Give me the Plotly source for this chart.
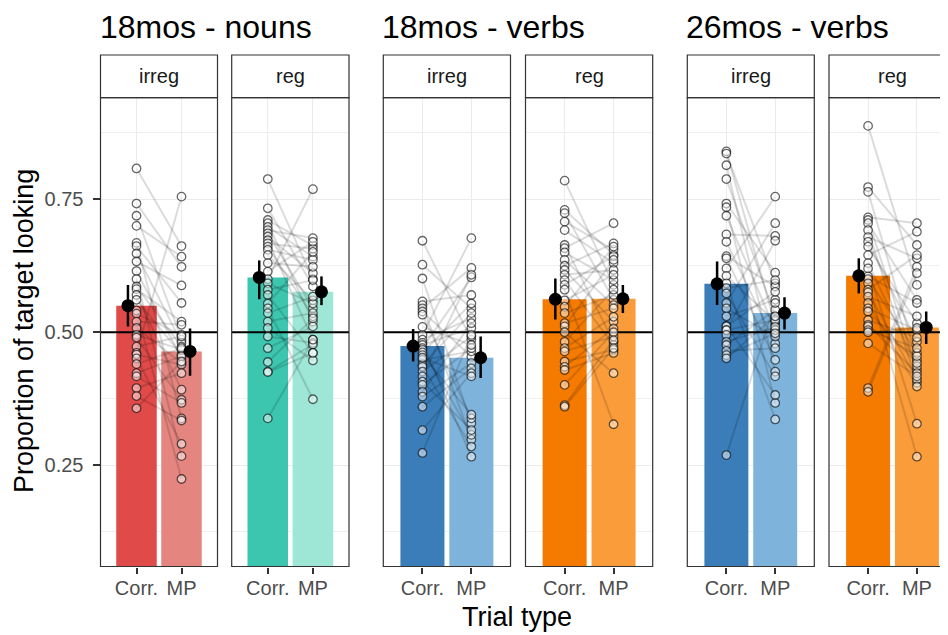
import plotly.graph_objects as go

W_PAGE, H_PAGE = 948, 635
BODY = 8  # default page margin of the html body
W, H = W_PAGE - BODY, H_PAGE - BODY

group_titles = ["18mos - nouns", "18mos - verbs", "26mos - verbs"]
strip_labels = ["irreg", "reg", "irreg", "reg", "irreg", "reg"]
trial_types = ["Corr.", "MP"]
y_ticks = [0.25, 0.50, 0.75]
y_tick_labels = ["0.25", "0.50", "0.75"]
y_minor = [0.125, 0.375, 0.625, 0.875]
ref_line = 0.5
y_title = "Proportion of target looking"
x_title = "Trial type"

# individual participants (paired: corr[i] <-> mp[i])
corr_1 = [0.808, 0.742, 0.719, 0.700, 0.668, 0.662, 0.648, 0.633, 0.615, 0.600, 0.586, 0.581, 0.570, 0.561, 0.541,
          0.535, 0.520, 0.508, 0.495, 0.490, 0.473, 0.461, 0.458, 0.451, 0.440, 0.423, 0.417, 0.395, 0.380, 0.357]
mp_1 = [0.662, 0.623, 0.486, 0.642, 0.338, 0.555, 0.480, 0.588, 0.451, 0.267, 0.473, 0.520, 0.392, 0.458, 0.224,
        0.495, 0.514, 0.442, 0.467, 0.373, 0.492, 0.755, 0.439, 0.290, 0.470, 0.455, 0.367, 0.423, 0.334, 0.445]

corr_2 = [0.788, 0.733, 0.711, 0.705, 0.698, 0.692, 0.686, 0.680, 0.673, 0.667, 0.661, 0.655, 0.645, 0.630, 0.614,
          0.600, 0.592, 0.580, 0.570, 0.554, 0.545, 0.536, 0.520, 0.508, 0.492, 0.470, 0.444, 0.426, 0.425, 0.338]
mp_2 = [0.600, 0.586, 0.663, 0.520, 0.642, 0.677, 0.545, 0.611, 0.486, 0.657, 0.530, 0.636, 0.560, 0.623, 0.670,
        0.769, 0.554, 0.598, 0.461, 0.651, 0.374, 0.567, 0.536, 0.447, 0.480, 0.511, 0.526, 0.477, 0.461, 0.486]

corr_3 = [0.672, 0.627, 0.601, 0.558, 0.551, 0.545, 0.539, 0.533, 0.495, 0.486, 0.480, 0.476, 0.470, 0.467, 0.462,
          0.457, 0.448, 0.439, 0.435, 0.426, 0.417, 0.407, 0.401, 0.388, 0.379, 0.360, 0.316, 0.273, 0.452, 0.510]
mp_3 = [0.486, 0.545, 0.329, 0.570, 0.298, 0.621, 0.454, 0.338, 0.677, 0.526, 0.266, 0.508, 0.603, 0.307, 0.554,
        0.345, 0.464, 0.536, 0.285, 0.492, 0.608, 0.316, 0.470, 0.517, 0.442, 0.432, 0.423, 0.495, 0.417, 0.476]

corr_4 = [0.785, 0.730, 0.724, 0.708, 0.692, 0.664, 0.658, 0.650, 0.636, 0.625, 0.617, 0.608, 0.598, 0.589, 0.580,
          0.560, 0.548, 0.536, 0.517, 0.511, 0.500, 0.482, 0.470, 0.464, 0.445, 0.435, 0.429, 0.401, 0.363, 0.360]
mp_4 = [0.589, 0.646, 0.561, 0.655, 0.630, 0.482, 0.705, 0.598, 0.551, 0.667, 0.520, 0.617, 0.476, 0.643, 0.327,
        0.608, 0.661, 0.570, 0.545, 0.636, 0.423, 0.580, 0.529, 0.492, 0.467, 0.507, 0.461, 0.500, 0.485, 0.470]

corr_5 = [0.840, 0.836, 0.814, 0.788, 0.742, 0.735, 0.719, 0.684, 0.670, 0.643, 0.639, 0.620, 0.606, 0.592, 0.583,
          0.573, 0.555, 0.545, 0.530, 0.512, 0.511, 0.504, 0.504, 0.495, 0.482, 0.476, 0.465, 0.457, 0.451, 0.269]
mp_5 = [0.514, 0.592, 0.426, 0.530, 0.612, 0.367, 0.504, 0.681, 0.479, 0.586, 0.448, 0.755, 0.520, 0.336, 0.598,
        0.417, 0.705, 0.492, 0.561, 0.382, 0.576, 0.672, 0.523, 0.504, 0.510, 0.542, 0.470, 0.498, 0.530, 0.555]

corr_6 = [0.888, 0.773, 0.764, 0.716, 0.711, 0.705, 0.692, 0.679, 0.670, 0.661, 0.645, 0.630, 0.620, 0.605, 0.600,
          0.592, 0.580, 0.575, 0.567, 0.555, 0.545, 0.539, 0.523, 0.514, 0.511, 0.504, 0.500, 0.479, 0.395, 0.388]
mp_6 = [0.589, 0.664, 0.448, 0.705, 0.429, 0.561, 0.405, 0.639, 0.482, 0.517, 0.689, 0.436, 0.328, 0.555, 0.461,
        0.266, 0.645, 0.411, 0.530, 0.398, 0.504, 0.442, 0.490, 0.423, 0.455, 0.470, 0.508, 0.417, 0.623, 0.611]

# group means and 95% CI
mean_corr = [0.550, 0.603, 0.474, 0.562, 0.591, 0.606]
lo_corr = [0.511, 0.562, 0.445, 0.524, 0.551, 0.573]
hi_corr = [0.589, 0.635, 0.506, 0.601, 0.633, 0.639]
mean_mp = [0.464, 0.576, 0.452, 0.563, 0.536, 0.509]
lo_mp = [0.418, 0.551, 0.414, 0.536, 0.505, 0.478]
hi_mp = [0.507, 0.605, 0.492, 0.589, 0.566, 0.539]

corr_vals = [corr_1, corr_2, corr_3, corr_4, corr_5, corr_6]
mp_vals = [mp_1, mp_2, mp_3, mp_4, mp_5, mp_6]

bar_corr = ["#E04A49", "#3CC6B0", "#3A7DB8", "#F47A00", "#3A7DB8", "#F47A00"]
bar_mp = ["#E5857F", "#9EE6D6", "#7EB3DB", "#FB9C3A", "#7EB3DB", "#FB9C3A"]

# layout geometry (page pixels)
panels_px = [(100.5, 217.5), (231.7, 349.0), (383.3, 510.5), (525.5, 652.7), (687.3, 814.3), (829.0, 956.0)]
strip_top, panel_top, panel_bot = 55.0, 97.7, 566.5
x_lo, x_span = 0.2, 2.6
dodge = 0.19
y_range = [0.0595, 0.941]


def px(v):
    return (v - BODY) / W


def py(v):
    return 1 - (v - BODY) / H


fig = go.Figure()
layout = dict(width=W, height=H, margin=dict(l=0, r=0, t=0, b=0), plot_bgcolor="white",
              paper_bgcolor="white", showlegend=False, font=dict(family="Liberation Sans, Arial, sans-serif"))
shapes, annotations = [], []
ydom = [py(panel_bot), py(panel_top)]
strip_h = (panel_top - strip_top) / (panel_bot - panel_top)

for i in range(6):
    sfx = "" if i == 0 else str(i + 1)
    xa, ya = "x" + sfx, "y" + sfx
    l, r = panels_px[i]
    rv = min(r, W_PAGE)
    frac = (rv - l) / (r - l)
    x_hi = x_lo + x_span * frac
    over = (r - l) / (rv - l)

    layout["xaxis" + sfx] = dict(domain=[px(l), min(px(rv), 1.0)], range=[x_lo, x_hi], anchor=ya,
                                 tickvals=[1, 2], ticktext=trial_types, showgrid=True, gridcolor="#ebebeb",
                                 gridwidth=1.4, zeroline=False, showline=False, ticks="outside", ticklen=6,
                                 tickwidth=1.5, tickcolor="#333333", ticklabelstandoff=-3,
                                 tickfont=dict(size=20, color="#4d4d4d"), automargin=False)
    layout["yaxis" + sfx] = dict(domain=ydom, range=y_range, anchor=xa, tickvals=y_ticks,
                                 ticktext=y_tick_labels, showgrid=True, gridcolor="#ebebeb", gridwidth=1.4,
                                 zeroline=False, showline=False,
                                 minor=dict(tickvals=y_minor, showgrid=True, gridcolor="#f0f0f0", gridwidth=0.8),
                                 ticks="outside" if i == 0 else "", ticklen=7, tickwidth=1.5, tickcolor="#333333",
                                 showticklabels=(i == 0), ticklabelstandoff=5,
                                 tickfont=dict(size=20, color="#4d4d4d"), automargin=False)

    fig.add_trace(go.Bar(x=[1, 2], y=[mean_corr[i], mean_mp[i]], width=0.9,
                         marker=dict(color=[bar_corr[i], bar_mp[i]], line=dict(width=0)),
                         xaxis=xa, yaxis=ya, hoverinfo="skip"))
    fig.add_trace(go.Scatter(x=[x_lo, x_hi], y=[ref_line, ref_line], mode="lines",
                             line=dict(color="black", width=2.2), xaxis=xa, yaxis=ya, hoverinfo="skip"))
    for c, m in zip(corr_vals[i], mp_vals[i]):
        fig.add_trace(go.Scatter(x=[1, 2], y=[c, m], mode="lines",
                                 line=dict(color="rgba(0,0,0,0.14)", width=2),
                                 xaxis=xa, yaxis=ya, hoverinfo="skip"))
    fig.add_trace(go.Scatter(x=[1] * len(corr_vals[i]) + [2] * len(mp_vals[i]),
                             y=corr_vals[i] + mp_vals[i], mode="markers",
                             marker=dict(size=8.5, color="rgba(255,255,255,0.5)",
                                         line=dict(color="rgba(0,0,0,0.6)", width=1.3)),
                             xaxis=xa, yaxis=ya, hoverinfo="skip"))
    fig.add_trace(go.Scatter(x=[1 - dodge, 2 + dodge], y=[mean_corr[i], mean_mp[i]], mode="markers",
                             marker=dict(size=13, color="black"),
                             error_y=dict(type="data", symmetric=False,
                                          array=[hi_corr[i] - mean_corr[i], hi_mp[i] - mean_mp[i]],
                                          arrayminus=[mean_corr[i] - lo_corr[i], mean_mp[i] - lo_mp[i]],
                                          width=0, thickness=2.5, color="black"),
                             xaxis=xa, yaxis=ya, hoverinfo="skip"))

    xd, yd = xa + " domain", ya + " domain"
    shapes.append(dict(type="rect", xref=xd, yref=yd, x0=0, x1=over, y0=0, y1=1,
                       line=dict(color="#333333", width=1.2), fillcolor="rgba(0,0,0,0)", layer="above"))
    shapes.append(dict(type="rect", xref=xd, yref=yd, x0=0, x1=over, y0=1, y1=1 + strip_h,
                       line=dict(color="#333333", width=1.2), fillcolor="white", layer="above"))
    annotations.append(dict(text=strip_labels[i], xref=xd, yref=yd, x=0.5 * over, y=1 + strip_h / 2,
                            showarrow=False, xanchor="center", yanchor="middle",
                            font=dict(size=20, color="#1a1a1a")))

for g in range(3):
    l = panels_px[2 * g][0]
    annotations.append(dict(text=group_titles[g], xref="paper", yref="paper", x=px(l - 2), y=1.0,
                            xanchor="left", yanchor="top", showarrow=False, borderpad=0,
                            font=dict(size=32, color="black")))

annotations.append(dict(text=y_title, xref="paper", yref="paper", x=px(23.5), y=py(331.5),
                        textangle=-90, showarrow=False, xanchor="center", yanchor="middle",
                        font=dict(size=27, color="black")))
annotations.append(dict(text=x_title, xref="paper", yref="paper", x=px(517), y=py(617),
                        showarrow=False, xanchor="center", yanchor="middle",
                        font=dict(size=27, color="black")))

layout["shapes"] = shapes
layout["annotations"] = annotations
fig.update_layout(**layout)
fig.write_html("out.html")
